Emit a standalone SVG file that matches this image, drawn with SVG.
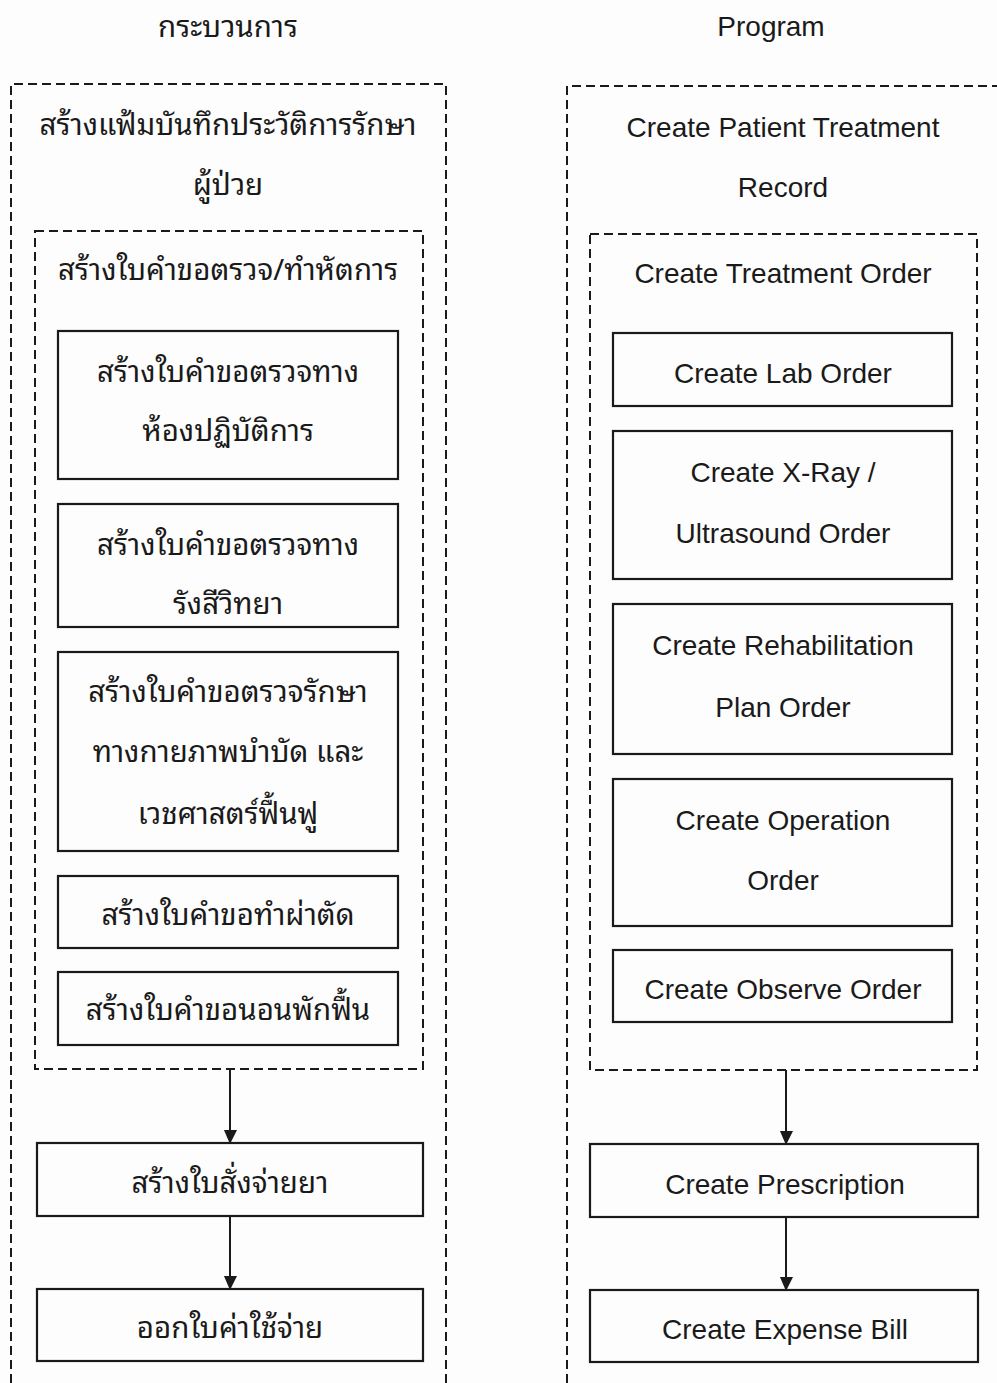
<svg xmlns="http://www.w3.org/2000/svg" width="997" height="1383" viewBox="0 0 997 1383">
  <style>
    .dash { fill: none; stroke: #1a1a1a; stroke-width: 2; stroke-dasharray: 9 5; }
    .box { fill: none; stroke: #1a1a1a; stroke-width: 2.2; }
    .th { font-family: "Noto Sans Thai Looped", "Noto Serif Thai", "Noto Sans Thai", "DejaVu Sans", "Noto Sans", sans-serif; font-size: 29.5px; fill: #1a1a1a; text-anchor: middle; }
    .en { font-family: "Liberation Sans", Arial, sans-serif; font-size: 28px; fill: #1a1a1a; text-anchor: middle; }
    .wire { stroke: #1a1a1a; stroke-width: 2; fill: none; }
  </style>
  <defs>
    <marker id="arrow" viewBox="0 0 14 15" refX="14" refY="7.5" markerWidth="15" markerHeight="14" markerUnits="userSpaceOnUse" orient="auto">
      <path d="M0,0 L15,7.5 L0,14 Z" fill="#1a1a1a"/>
    </marker>
  </defs>
  <rect width="997" height="1383" fill="#fdfdfd"/>

  <!-- column headings -->
  <text class="th" x="228" y="37">กระบวนการ</text>
  <text class="en" x="771" y="36">Program</text>

  <!-- process column -->
  <g id="process-record">
    <path class="dash" d="M11,1383 L11,84 L446,84 L446,1383"/>
    <text class="th" x="228" y="135">สร้างแฟ้มบันทึกประวัติการรักษา</text>
    <text class="th" x="228" y="195">ผู้ป่วย</text>
  </g>
  <g id="process-orders">
    <rect class="dash" x="35" y="231" width="388" height="838"/>
    <text class="th" x="228" y="280">สร้างใบคำขอตรวจ/ทำหัตการ</text>
  </g>
  <g id="process-lab">
    <rect class="box" x="58" y="331" width="340" height="148"/>
    <text class="th" x="228" y="382">สร้างใบคำขอตรวจทาง</text>
    <text class="th" x="228" y="441">ห้องปฏิบัติการ</text>
  </g>
  <g id="process-xray">
    <rect class="box" x="58" y="504" width="340" height="123"/>
    <text class="th" x="228" y="555">สร้างใบคำขอตรวจทาง</text>
    <text class="th" x="228" y="614">รังสีวิทยา</text>
  </g>
  <g id="process-rehab">
    <rect class="box" x="58" y="652" width="340" height="199"/>
    <text class="th" x="228" y="702">สร้างใบคำขอตรวจรักษา</text>
    <text class="th" x="228" y="762">ทางกายภาพบำบัด และ</text>
    <text class="th" x="228" y="824">เวชศาสตร์ฟื้นฟู</text>
  </g>
  <g id="process-operation">
    <rect class="box" x="58" y="876" width="340" height="72"/>
    <text class="th" x="228" y="925">สร้างใบคำขอทำผ่าตัด</text>
  </g>
  <g id="process-observe">
    <rect class="box" x="58" y="972" width="340" height="73"/>
    <text class="th" x="228" y="1020">สร้างใบคำขอนอนพักฟื้น</text>
  </g>
  <g id="process-prescription">
    <rect class="box" x="37" y="1143" width="386" height="73"/>
    <text class="th" x="230" y="1193">สร้างใบสั่งจ่ายยา</text>
  </g>
  <g id="process-bill">
    <rect class="box" x="37" y="1289" width="386" height="72"/>
    <text class="th" x="230" y="1338">ออกใบค่าใช้จ่าย</text>
  </g>

  <!-- program column -->
  <g id="program-record">
    <path class="dash" d="M567,1383 L567,86 L1000,86"/>
    <text class="en" x="783" y="137">Create Patient Treatment</text>
    <text class="en" x="783" y="197">Record</text>
  </g>
  <g id="program-orders">
    <rect class="dash" x="590" y="234" width="387" height="836"/>
    <text class="en" x="783" y="283">Create Treatment Order</text>
  </g>
  <g id="program-lab">
    <rect class="box" x="613" y="333" width="339" height="73"/>
    <text class="en" x="783" y="383">Create Lab Order</text>
  </g>
  <g id="program-xray">
    <rect class="box" x="613" y="431" width="339" height="148"/>
    <text class="en" x="783" y="482">Create X-Ray /</text>
    <text class="en" x="783" y="543">Ultrasound Order</text>
  </g>
  <g id="program-rehab">
    <rect class="box" x="613" y="604" width="339" height="150"/>
    <text class="en" x="783" y="655">Create Rehabilitation</text>
    <text class="en" x="783" y="717">Plan Order</text>
  </g>
  <g id="program-operation">
    <rect class="box" x="613" y="779" width="339" height="147"/>
    <text class="en" x="783" y="830">Create Operation</text>
    <text class="en" x="783" y="890">Order</text>
  </g>
  <g id="program-observe">
    <rect class="box" x="613" y="950" width="339" height="72"/>
    <text class="en" x="783" y="999">Create Observe Order</text>
  </g>
  <g id="program-prescription">
    <rect class="box" x="590" y="1144" width="388" height="73"/>
    <text class="en" x="785" y="1194">Create Prescription</text>
  </g>
  <g id="program-bill">
    <rect class="box" x="590" y="1290" width="388" height="72"/>
    <text class="en" x="785" y="1339">Create Expense Bill</text>
  </g>

  <!-- connectors -->
  <g id="connectors">
    <line class="wire" x1="230" y1="1069" x2="230" y2="1143" marker-end="url(#arrow)"/>
    <line class="wire" x1="230" y1="1216" x2="230" y2="1289" marker-end="url(#arrow)"/>
    <line class="wire" x1="786" y1="1070" x2="786" y2="1144" marker-end="url(#arrow)"/>
    <line class="wire" x1="786" y1="1217" x2="786" y2="1290" marker-end="url(#arrow)"/>
  </g>
</svg>
